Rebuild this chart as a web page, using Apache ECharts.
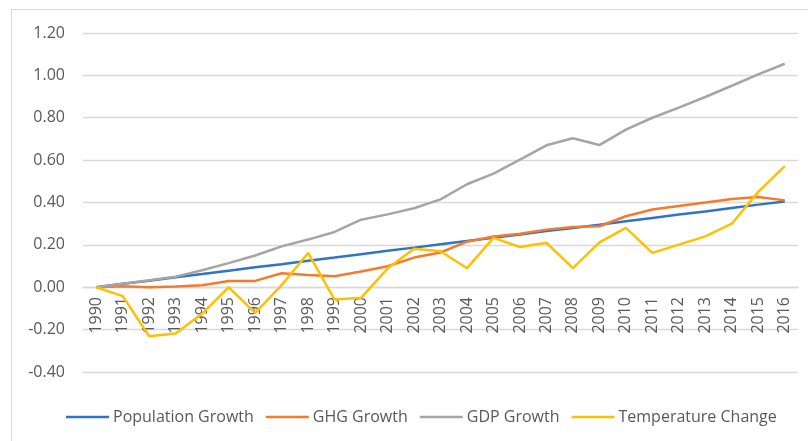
<!DOCTYPE html>
<html>
<head>
<meta charset="utf-8">
<script src="https://cdn.jsdelivr.net/npm/echarts@6/dist/echarts.min.js"></script>
<style>
  html, body { margin: 0; padding: 0; background: #fff; }
  #chart { width: 808px; height: 441px; }
</style>
</head>
<body>
<div id="chart"></div>
<script>
const years = ["1990","1991","1992","1993","1994","1995","1996","1997","1998","1999","2000","2001","2002","2003","2004","2005","2006","2007","2008","2009","2010","2011","2012","2013","2014","2015","2016"];
const populationGrowth = [0, 0.016, 0.031, 0.047, 0.062, 0.078, 0.094, 0.109, 0.125, 0.140, 0.156, 0.172, 0.187, 0.203, 0.218, 0.234, 0.249, 0.265, 0.280, 0.295, 0.311, 0.327, 0.343, 0.358, 0.374, 0.390, 0.405];
const ghgGrowth = [0, 0.005, 0.0, 0.003, 0.009, 0.029, 0.03, 0.066, 0.058, 0.052, 0.074, 0.099, 0.14, 0.164, 0.215, 0.24, 0.253, 0.272, 0.284, 0.288, 0.335, 0.367, 0.384, 0.4, 0.417, 0.426, 0.41];
const gdpGrowth = [0, 0.017, 0.033, 0.05, 0.08, 0.114, 0.15, 0.193, 0.225, 0.261, 0.319, 0.344, 0.373, 0.415, 0.486, 0.536, 0.602, 0.67, 0.703, 0.671, 0.744, 0.8, 0.848, 0.898, 0.951, 1.005, 1.055];
const temperatureChange = [0, -0.042, -0.231, -0.218, -0.124, 0.0, -0.121, 0.01, 0.162, -0.058, -0.05, 0.088, 0.182, 0.17, 0.09, 0.233, 0.19, 0.21, 0.09, 0.212, 0.28, 0.162, 0.201, 0.24, 0.30, 0.45, 0.572];
const yTicks = { min: -0.4, max: 1.2, interval: 0.2 };

const chart = echarts.init(document.getElementById("chart"));
const font = "'Open Sans', sans-serif";

function line(name, data, color) {
  return {
    name: name,
    type: "line",
    data: data,
    symbol: "none",
    lineStyle: { color: color, width: 2.5 },
    itemStyle: { color: color },
    animation: false
  };
}

// grid: top 33 (1.20) .. bottom 372 (-0.40); zero line sits at 287
const gridTop = 33, gridBottom = 69;
const zeroOffset = -((441 - gridBottom) - 287);

chart.setOption({
  animation: false,
  graphic: [{
    type: "rect",
    shape: { x: 11.5, y: 9.5, width: 820, height: 460 },
    style: { fill: "none", stroke: "#D9D9D9", lineWidth: 1 },
    silent: true
  }],
  grid: { left: 83, right: 10, top: gridTop, bottom: gridBottom, containLabel: false },
  legend: {
    left: 61,
    top: 404,
    itemWidth: 43,
    itemHeight: 2.5,
    itemGap: 12,
    icon: "rect",
    textStyle: { color: "#595959", fontSize: 16, fontFamily: font, padding: [0, 0, 0, -1] },
    data: ["Population Growth", "GHG Growth", "GDP Growth", "Temperature Change"]
  },
  xAxis: {
    type: "category",
    data: years,
    boundaryGap: true,
    offset: zeroOffset,
    axisLine: { onZero: false, lineStyle: { color: "#D9D9D9", width: 1.3 } },
    axisTick: { show: false },
    axisLabel: { rotate: 90, color: "#595959", fontSize: 16, fontFamily: font, margin: 10, interval: 0 },
    splitLine: { show: false }
  },
  yAxis: {
    type: "value",
    min: yTicks.min,
    max: yTicks.max,
    interval: yTicks.interval,
    axisLine: { show: false },
    axisTick: { show: false },
    axisLabel: {
      color: "#595959", fontSize: 16, fontFamily: font, margin: 18,
      formatter: (v) => v.toFixed(2)
    },
    splitLine: { lineStyle: { color: "#D9D9D9", width: 1.3 } }
  },
  series: [
    line("Population Growth", populationGrowth, "#2E75C8"),
    line("GHG Growth", ghgGrowth, "#F47B2C"),
    line("GDP Growth", gdpGrowth, "#A5A5A5"),
    line("Temperature Change", temperatureChange, "#FFC000")
  ]
});
</script>
</body>
</html>
